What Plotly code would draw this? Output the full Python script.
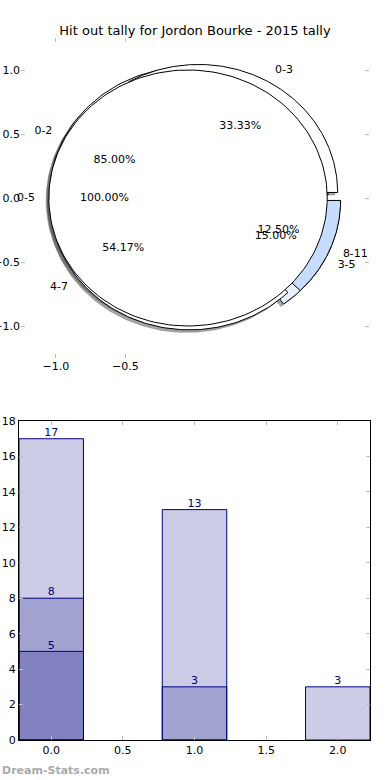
import numpy as np
import plotly.graph_objects as go

# ---------------- data ----------------
title = "Hit out tally for Jordon Bourke - 2015 tally"

# three overlaid pies (drawn bottom -> top)
pie_b_labels = ["0-2", "3-5"]
pie_b_values = [17, 3]
pie_b_colors = ["#ffffff", "#e8f0ff"]

pie_a_labels = ["0-3", "4-7", "8-11"]
pie_a_values = [8, 13, 3]
pie_a_colors = ["#ffffff", "#ffffff", "#c8dcff"]

pie_c_labels = ["0-5"]
pie_c_values = [5]
pie_c_colors = ["#ffffff"]

# overlaid bars
bar_x = [0, 1, 2]
bar_s1 = [17, 13, 3]
bar_s2 = [8, 3, None]
bar_s3 = [5, None, None]

explode = 0.05
FONT = "DejaVu Sans"

fig = go.Figure()


def wedge_path(t1, t2, cx, cy, full):
    th = np.radians(np.linspace(t1, t2, 181))
    xs = cx + np.cos(th)
    ys = cy + np.sin(th)
    if full:
        return list(xs), list(ys)
    return [cx] + list(xs) + [cx], [cy] + list(ys) + [cy]


pies = [(pie_b_labels, pie_b_values, pie_b_colors),
        (pie_a_labels, pie_a_values, pie_a_colors),
        (pie_c_labels, pie_c_values, pie_c_colors)]

geoms = []
for labels, values, colors in pies:
    tot = float(sum(values))
    t = 0.0
    for lab, v, col in zip(labels, values, colors):
        frac = v / tot
        t1, t2 = 360 * t, 360 * (t + frac)
        mid = np.radians((t1 + t2) / 2)
        cx, cy = explode * np.cos(mid), explode * np.sin(mid)
        geoms.append(dict(lab=lab, frac=frac, t1=t1, t2=t2, mid=mid,
                          cx=cx, cy=cy, col=col, full=frac >= 0.9999))
        t += frac

# shadows (beneath all wedges)
for g in geoms:
    xs, ys = wedge_path(g["t1"], g["t2"], g["cx"] - 0.02, g["cy"] - 0.02, g["full"])
    sc = "rgba(60,66,77,0.5)" if g["col"] == "#c8dcff" else "rgba(77,77,77,0.5)"
    fig.add_trace(go.Scatter(x=xs, y=ys, mode="lines", fill="toself",
                             fillcolor=sc, line=dict(width=0.6, color=sc),
                             hoverinfo="skip", showlegend=False,
                             xaxis="x", yaxis="y"))

# wedges
for g in geoms:
    xs, ys = wedge_path(g["t1"], g["t2"], g["cx"], g["cy"], g["full"])
    fig.add_trace(go.Scatter(x=xs, y=ys, mode="lines", fill="toself",
                             fillcolor=g["col"], line=dict(width=1, color="black"),
                             hoverinfo="skip", showlegend=False,
                             xaxis="x", yaxis="y"))

# labels
for g in geoms:
    xt = g["cx"] + 1.1 * np.cos(g["mid"])
    yt = g["cy"] + 1.1 * np.sin(g["mid"])
    pos = "middle right" if xt > 0 else "middle left"
    fig.add_trace(go.Scatter(x=[xt], y=[yt], mode="text", text=[g["lab"]],
                             textposition=pos,
                             textfont=dict(family=FONT, size=11, color="black"),
                             hoverinfo="skip", showlegend=False, cliponaxis=False,
                             xaxis="x", yaxis="y"))
    xp = g["cx"] + 0.6 * np.cos(g["mid"])
    yp = g["cy"] + 0.6 * np.sin(g["mid"])
    fig.add_trace(go.Scatter(x=[xp], y=[yp], mode="text",
                             text=["%.2f%%" % (100 * g["frac"])],
                             textposition="middle center",
                             textfont=dict(family=FONT, size=11, color="black"),
                             hoverinfo="skip", showlegend=False,
                             xaxis="x", yaxis="y"))

# ---------------- bars ----------------
for s in [bar_s1, bar_s2, bar_s3]:
    xs = [x for x, v in zip(bar_x, s) if v is not None]
    vs = [v for v in s if v is not None]
    fig.add_trace(go.Bar(x=xs, y=vs, width=0.45,
                         marker=dict(color="rgba(0,0,128,0.2)",
                                     line=dict(color="#000080", width=1)),
                         hoverinfo="skip", showlegend=False,
                         xaxis="x2", yaxis="y2"))
for s in [bar_s1, bar_s2, bar_s3]:
    xs = [x for x, v in zip(bar_x, s) if v is not None]
    vs = [v for v in s if v is not None]
    fig.add_trace(go.Scatter(x=xs, y=vs, mode="text", text=[str(v) for v in vs],
                             textposition="top center",
                             textfont=dict(family=FONT, size=11, color="#000080"),
                             hoverinfo="skip", showlegend=False, cliponaxis=False,
                             xaxis="x2", yaxis="y2"))

tickstyle = dict(ticks="inside", ticklen=4, tickwidth=1, tickcolor="#bbbbbb",
                 showgrid=False, zeroline=False, automargin=False,
                 tickfont=dict(family=FONT, size=11, color="black"))

fig.update_layout(
    width=390, height=780,
    margin=dict(l=0, r=0, t=0, b=0, autoexpand=False),
    paper_bgcolor="white", plot_bgcolor="white",
    barmode="overlay",
    font=dict(family=FONT, size=11, color="black"),
    title=dict(text=title, x=0.5, xanchor="center", y=1 - 30 / 780,
               yanchor="middle", font=dict(family=FONT, size=13, color="black")),
    xaxis=dict(domain=[21 / 390, 369 / 390], range=[-1.25, 1.25],
               tickvals=[-1.0, -0.5], ticktext=["\u22121.0", "\u22120.5"],
               showline=False, mirror="ticks", anchor="y", **tickstyle),
    yaxis=dict(domain=[(780 - 358) / 780, (780 - 38) / 780], range=[-1.25, 1.25],
               tickvals=[-1.0, -0.5, 0.0, 0.5, 1.0],
               ticktext=["\u22121.0", "\u22120.5", "0.0", "0.5", "1.0"],
               showline=False, mirror="ticks", anchor="x", **tickstyle),
    xaxis2=dict(domain=[19 / 390, 370 / 390], range=[-0.225, 2.225],
                tickvals=[0, 0.5, 1.0, 1.5, 2.0], tickformat=".1f",
                showline=True, linecolor="black", linewidth=1, mirror="ticks",
                anchor="y2", **tickstyle),
    yaxis2=dict(domain=[40 / 780, 359 / 780], range=[0, 18],
                tickvals=list(range(0, 19, 2)),
                showline=True, linecolor="black", linewidth=1, mirror="ticks",
                anchor="x2", **tickstyle),
    annotations=[dict(text="<b>Dream-Stats.com</b>", xref="paper", yref="paper",
                      x=0, y=10 / 780, xanchor="left", yanchor="middle",
                      showarrow=False,
                      font=dict(family=FONT, size=11, color="#aaaaaa"))],
)

fig.write_html("out.html",
               config={"displayModeBar": False},
               post_script="document.body.style.margin='0px';"
                           "document.body.style.overflow='hidden';")
